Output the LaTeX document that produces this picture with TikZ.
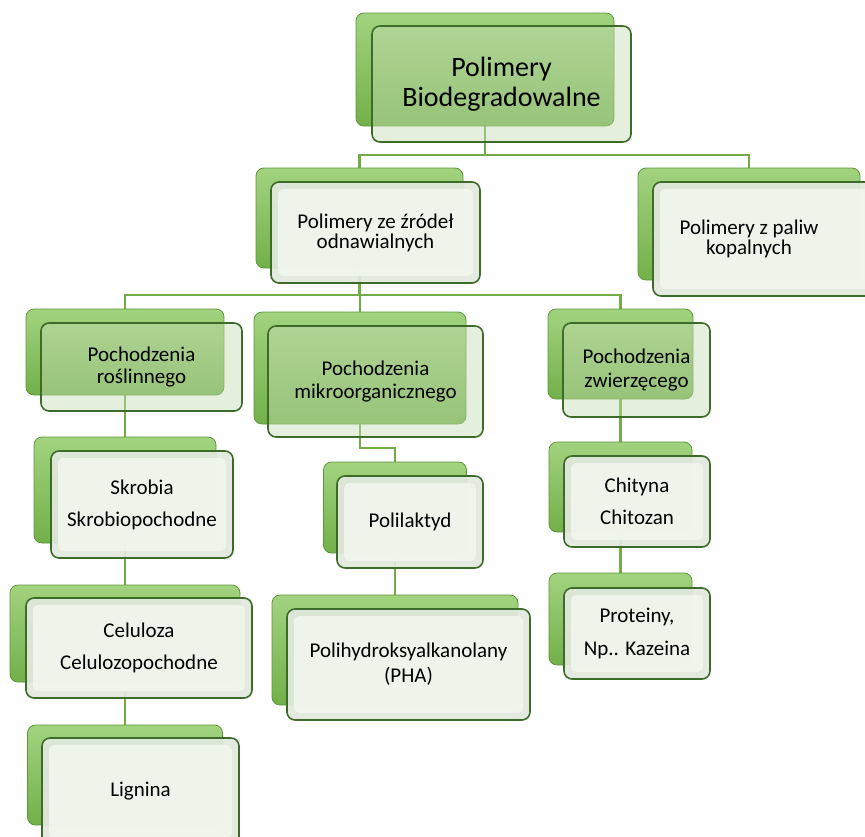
\documentclass[tikz,border=0pt]{standalone}
\usepackage{fontspec}
\setmainfont{Carlito}
\usetikzlibrary{backgrounds}
\definecolor{lineG}{HTML}{70AD47}
\definecolor{backTop}{HTML}{A2D37F}
\definecolor{backBot}{HTML}{72B049}
\definecolor{backEdge}{HTML}{5E9439}
\definecolor{frontEdge}{HTML}{3D6B2A}
\definecolor{frontW}{HTML}{E2E8DE}
\definecolor{frontWin}{HTML}{F0F6EC}
\definecolor{frontG}{HTML}{C6DCB5}
\begin{document}
\begin{tikzpicture}[x=1pt,y=-1pt,
  sz/.style 2 args={minimum width=#1pt, minimum height=#2pt},
  backbox/.style={rounded corners=8pt, draw=backEdge, line width=0.8pt,
    top color=backTop, bottom color=backBot, inner sep=0pt},
  frontw/.style={rounded corners=8pt, draw=frontEdge, line width=1.6pt,
    fill=frontW, fill opacity=0.93, text opacity=1, inner sep=0pt, align=center,
    path picture={\fill[frontWin, rounded corners=5pt]
      ([shift={(7pt,-7pt)}]path picture bounding box.north west) rectangle
      ([shift={(-7pt,7pt)}]path picture bounding box.south east);}},
  frontg/.style={rounded corners=8pt, draw=frontEdge, line width=1.6pt,
    fill=frontG, fill opacity=0.45, text opacity=1, inner sep=0pt, align=center},
  conn/.style={draw=lineG, line width=2.4pt},
  txt/.style={font=\fontsize{21}{#1}\selectfont}
]
\useasboundingbox (0,0) rectangle (865,836);

% root
\node[backbox, sz={258}{113}] (rootb) at (485,69.5) {};
\node[frontg, sz={259}{116}, font=\fontsize{28}{30}\selectfont] (root) at (501.5,84) {Polimery\\Biodegradowalne};

% level 2
\node[backbox, sz={207}{100}] (l2ab) at (359.5,218) {};
\node[frontw, sz={209}{101}, txt=20] (l2a) at (375.5,232.5) {Polimery ze źródeł\\odnawialnych};
\node[backbox, sz={222}{112}] (l2bb) at (749,224) {};
\node[frontw, sz={224}{114}, txt=20] (l2b) at (765,239) {\hspace*{-32pt}Polimery z paliw\\\hspace*{-32pt}kopalnych};

% level 3
\node[backbox, sz={198}{86}] (rosb) at (125,352) {};
\node[frontg, sz={201}{88}, txt=22] (ros) at (141.5,367) {Pochodzenia\\roślinnego};
\node[backbox, sz={212}{112}] (mikb) at (360,368) {};
\node[frontg, sz={215}{111}, txt=23] (mik) at (375.5,381.5) {Pochodzenia\\mikroorganicznego};
\node[backbox, sz={145}{90}] (zwib) at (620.5,354) {};
\node[frontg, sz={147}{94}, txt=24] (zwi) at (636.5,370) {Pochodzenia\\zwierzęcego};

% left column
\node[backbox, sz={182}{106}] (skrb) at (125,490) {};
\node[frontw, sz={182}{107}, txt=32] (skr) at (142,504.5) {Skrobia\\Skrobiopochodne};
\node[backbox, sz={230}{97}] (celb) at (125,633.5) {};
\node[frontw, sz={226}{100}, txt=32] (cel) at (139,648) {Celuloza\\Celulozopochodne};
\node[backbox, sz={195}{100}] (ligb) at (125,775) {};
\node[frontw, sz={197}{107}, txt=22] (lig) at (140.5,791.5) {Lignina};

% middle column
\node[backbox, sz={143}{91}] (polb) at (395,507.5) {};
\node[frontw, sz={146}{92}, txt=22] (pol) at (410,522) {Polilaktyd};
\node[backbox, sz={246}{110}] (phab) at (395,650) {};
\node[frontw, sz={243}{111}, txt=25] (pha) at (408.5,664.5) {Polihydroksyalkanolany\\(PHA)};

% right column
\node[backbox, sz={143}{90}] (chib) at (620.5,487) {};
\node[frontw, sz={146}{91}, txt=32] (chi) at (637,501.5) {Chityna\\Chitozan};
\node[backbox, sz={143}{92}] (prob) at (620.5,619) {};
\node[frontw, sz={146}{91}, txt=33] (pro) at (637,633.5) {Proteiny,\\Np.. Kazeina};

\begin{pgfonlayer}{background}
\draw[conn] (rootb.south) -- (rootb.south |- 0,155) -| (l2ab.north);
\draw[conn] (rootb.south |- 0,155) -| (l2bb.north);
\draw[conn] (l2ab.south) -- (l2ab.south |- 0,295) -| (rosb.north);
\draw[conn] (l2ab.south |- 0,295) -| (mikb.north);
\draw[conn] (l2ab.south |- 0,295) -| (zwib.north);
\draw[conn] (rosb.south) -- (skrb.north);
\draw[conn] (skrb.south) -- (celb.north);
\draw[conn] (celb.south) -- (ligb.north);
\draw[conn] (mikb.south) -- (mikb.south |- 0,448) -| (polb.north);
\draw[conn] (polb.south) -- (phab.north);
\draw[conn] (zwib.south) -- (chib.north);
\draw[conn] (chib.south) -- (prob.north);
\end{pgfonlayer}
\end{tikzpicture}
\end{document}
